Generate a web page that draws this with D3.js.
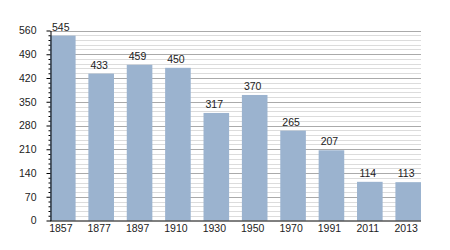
<!DOCTYPE html>
<html><head><meta charset="utf-8">
<script src="https://cdn.jsdelivr.net/npm/d3@7"></script>
<style>body{margin:0;background:#fff}svg{display:block}text{font-family:"Liberation Sans",Arial,sans-serif;font-size:10.5px;fill:#222}</style>
</head><body><svg id="c" width="450" height="250"></svg>
<script>
const years = ["1857","1877","1897","1910","1930","1950","1970","1991","2011","2013"];
const population = [545,433,459,450,317,370,265,207,114,113];
const yTicks = [0,70,140,210,280,350,420,490,560];

const svg = d3.select("#c");
const mLeft = 50, mRight = 421, mTop = 30.5, mBottom = 220.5;
const x = d3.scaleBand().domain(years).range([mLeft, mRight]).paddingInner(0.333).paddingOuter(0);
const y = d3.scaleLinear().domain([0, 560]).range([mBottom, mTop]);
const minor = d3.range(0, 561, 14);
const font = '"Liberation Sans",Arial,sans-serif';

svg.append("g").selectAll("line").data(minor.filter(v => v % 70 !== 0)).join("line")
  .attr("x1", mLeft).attr("x2", mRight).attr("y1", d => Math.round(y(d)) + 0.5).attr("y2", d => Math.round(y(d)) + 0.5)
  .attr("stroke", "#dcdcdc").attr("stroke-width", 1);
svg.append("g").selectAll("line").data(yTicks.filter(v => v > 0)).join("line")
  .attr("x1", mLeft).attr("x2", mRight).attr("y1", d => Math.round(y(d)) + 0.5).attr("y2", d => Math.round(y(d)) + 0.5)
  .attr("stroke", "#aaaaaa").attr("stroke-width", 1);

svg.append("g").selectAll("rect").data(population).join("rect")
  .attr("x", (d, i) => x(years[i])).attr("width", x.bandwidth())
  .attr("y", d => y(d)).attr("height", d => mBottom - y(d))
  .attr("fill", "#9bb3cf");

svg.append("g").selectAll("text").data(population).join("text")
  .attr("x", (d, i) => x(years[i]) + x.bandwidth() / 2 - 2).attr("y", d => y(d) - 5)
  .attr("text-anchor", "middle").text(d => d);

// y axis
const yAxis = d3.axisLeft(y).tickValues(yTicks).tickSize(4).tickPadding(10).tickSizeOuter(0);
const gy = svg.append("g").attr("transform", `translate(${mLeft + 0.5},0)`).call(yAxis);
gy.selectAll(".tick text").style("font-size", "10.5px").attr("fill", "#222").style("font-family", font);
gy.selectAll(".tick line").attr("stroke", "#000");
gy.select(".domain").attr("stroke", "#000");
const yMinor = d3.axisLeft(y).tickValues(minor.filter(v => v % 70 !== 0)).tickSize(2).tickFormat("");
svg.append("g").attr("transform", `translate(${mLeft + 0.5},0)`).call(yMinor).call(g => g.select(".domain").remove())
  .selectAll("line").attr("stroke", "#000");

// x axis
const xAxis = d3.axisBottom(x).tickSize(0).tickPadding(4).tickSizeOuter(0);
const gx = svg.append("g").attr("transform", `translate(0,${mBottom})`).call(xAxis);
gx.select(".domain").attr("stroke", "#000").attr("d", `M${mLeft},0.5H${mRight}`);
gx.selectAll(".tick text").attr("dx", -2).style("font-size", "10.5px").attr("fill", "#222").style("font-family", font);
</script></body></html>
